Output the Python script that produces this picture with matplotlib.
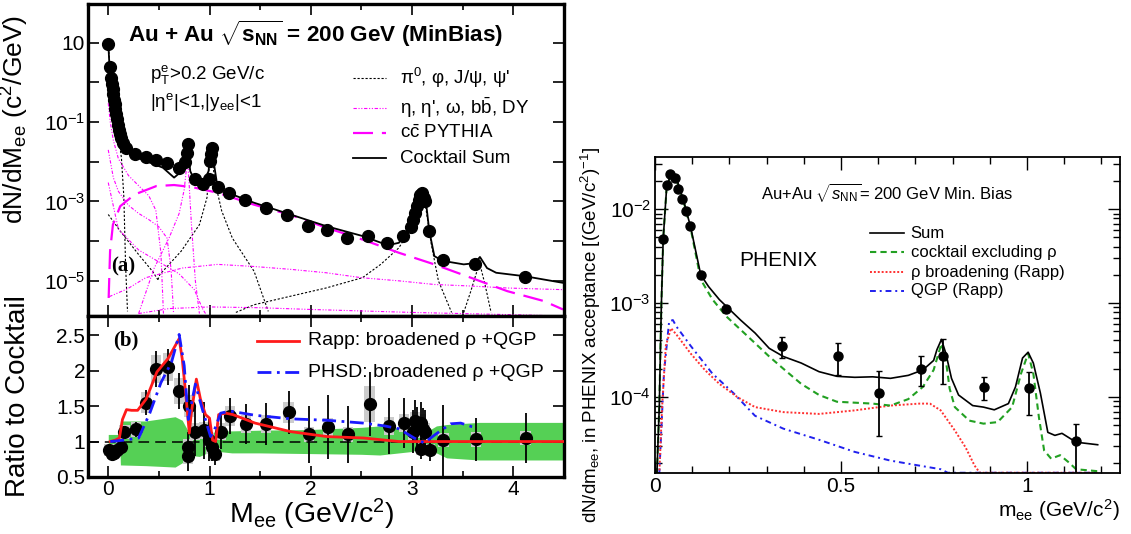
import numpy as np
import matplotlib
matplotlib.use("Agg")
import matplotlib.pyplot as plt
from matplotlib.ticker import FixedLocator, FixedFormatter, NullFormatter, MultipleLocator, LogLocator

plt.rcParams['font.family'] = ['Liberation Sans', 'DejaVu Sans']
plt.rcParams['mathtext.fontset'] = 'custom'
plt.rcParams['mathtext.rm'] = 'Liberation Sans'
plt.rcParams['mathtext.it'] = 'Liberation Sans:italic'
plt.rcParams['mathtext.bf'] = 'Liberation Sans:bold'

# ================= Panel (a): dN/dMee =================
data_M = [0.0, 0.018, 0.029, 0.036, 0.043, 0.05, 0.057, 0.064, 0.071, 0.079, 0.086, 0.093,
          0.104, 0.114, 0.129, 0.146, 0.171, 0.268, 0.368, 0.468, 0.582, 0.696, 0.761, 0.779,
          0.786, 0.857, 0.939, 0.993, 1.004, 1.011, 1.021, 1.082, 1.196, 1.35, 1.554, 1.761,
          1.975, 2.164, 2.361, 2.564, 2.754, 2.914, 2.993, 3.011, 3.029, 3.046, 3.064, 3.082,
          3.1, 3.118, 3.125, 3.171, 3.304, 3.618, 4.118]
data_y = [9.1, 2.48, 1.31, 0.92, 0.67, 0.50, 0.37, 0.28, 0.21, 0.156, 0.117, 0.087,
          0.065, 0.049, 0.039, 0.029, 0.0225, 0.0153, 0.0131, 0.0108, 0.0094, 0.0071, 0.0098, 0.0169,
          0.0274, 0.0036, 0.0027, 0.0036, 0.0104, 0.0153, 0.0225, 0.0023, 0.00165, 0.00106, 6.9e-4, 4.7e-4,
          2.4e-4, 1.86e-4, 1.21e-4, 1.34e-4, 9.1e-5, 1.34e-4, 2.25e-4, 3.5e-4, 5.2e-4, 7.6e-4, 1.12e-3, 1.5e-3,
          1.65e-3, 1.24e-3, 1.02e-3, 1.79e-4, 3.45e-5, 2.7e-5, 1.24e-5]

sum_M = [0.0, 0.01, 0.03, 0.05, 0.08, 0.1, 0.118, 0.17, 0.26, 0.37, 0.54, 0.65, 0.725, 0.76, 0.786,
         0.81, 0.85, 0.94, 0.99, 1.02, 1.045, 1.08, 1.225, 1.44, 1.8, 2.15, 2.51, 2.76, 2.87, 2.97,
         3.05, 3.09, 3.14, 3.17, 3.22, 3.3, 3.51, 3.62, 3.67, 3.74, 3.83, 4.12, 4.49]
sum_y = [10, 3.2, 1.0, 0.40, 0.126, 0.063, 0.033, 0.02, 0.0135, 0.0105, 0.0071, 0.0040, 0.0058, 0.0085, 0.020,
         0.0058, 0.0035, 0.0030, 0.0058, 0.0275, 0.0085, 0.0022, 0.0015, 9.3e-4, 4.7e-4, 2.4e-4, 1.35e-4, 7.9e-5, 9.1e-5, 2.2e-4,
         8.3e-4, 1.9e-3, 8.3e-4, 1.8e-4, 4.2e-5, 3.2e-5, 2.6e-5, 2.8e-5, 4.0e-5, 2.1e-5, 1.6e-5, 1.3e-5, 8.9e-6]

ccbar_M = [0.004, 0.018, 0.046, 0.118, 0.26, 0.475, 0.65, 0.83, 1.08, 1.44, 1.80, 2.15, 2.51, 2.87,
           3.22, 3.58, 3.94, 4.30, 4.49]
ccbar_y = [3.7e-6, 5.6e-5, 2.6e-4, 7.6e-4, 1.5e-3, 2.45e-3, 2.6e-3, 2.3e-3, 1.66e-3, 8.3e-4, 4.6e-4, 2.2e-4,
           1.1e-4, 5.1e-5, 2.6e-5, 1.2e-5, 5.5e-6, 3.1e-6, 1.9e-6]

# black dashed components: pi0, phi (Dalitz + direct), J/psi, psi'
pi0_M = [0.0, 0.02, 0.05, 0.08, 0.1, 0.13, 0.154, 0.171, 0.19]
pi0_y = [9.5, 2.0, 0.35, 0.1, 0.045, 0.0126, 1.3e-3, 2.5e-5, 1.7e-6]
phiD_M = [0.0, 0.118, 0.3, 0.44, 0.49]
phiD_y = [4.7e-4, 1.8e-4, 4.6e-5, 1.7e-5, 1.07e-5]
phi_M = [0.49, 0.51, 0.72, 0.9, 0.975, 1.0, 1.02, 1.04, 1.06, 1.12, 1.225, 1.44, 1.58]
phi_y = [1.07e-5, 1.45e-5, 5.6e-5, 2.6e-4, 1.26e-3, 0.0105, 0.027, 0.006, 2.7e-3, 5.8e-4, 1.2e-4, 1.74e-5, 1.7e-6]
jpsi_M = [1.26, 1.44, 1.8, 2.15, 2.51, 2.69, 2.87, 2.97, 3.05, 3.09, 3.12, 3.19, 3.26, 3.39]
jpsi_y = [1.6e-6, 2.5e-6, 4.1e-6, 6.6e-6, 1.2e-5, 2.6e-5, 6.8e-5, 1.8e-4, 8.3e-4, 1.8e-3, 1.26e-3, 8.3e-5, 1.0e-5, 1.6e-6]
psip_M = [3.51, 3.58, 3.65, 3.67, 3.72, 3.78]
psip_y = [1.6e-6, 5.5e-6, 2.1e-5, 2.6e-5, 8.1e-6, 1.6e-6]

# magenta dash-dot-dot components: eta, eta', omega, bbbar, DY
eta_M = [0.0, 0.02, 0.05, 0.1, 0.2, 0.3, 0.4, 0.47, 0.52, 0.545]
eta_y = [0.3, 0.1, 0.035, 0.012, 0.0045, 0.0025, 0.0014, 6e-4, 5e-5, 1.5e-6]
omD_M = [0.0, 0.05, 0.1, 0.2, 0.3, 0.4, 0.5, 0.58, 0.62, 0.645]
omD_y = [0.02, 0.004, 0.0018, 8e-4, 5e-4, 3.5e-4, 2.3e-4, 1.2e-4, 2e-5, 1.5e-6]
om_M = [0.3, 0.45, 0.6, 0.7, 0.75, 0.77, 0.783, 0.795, 0.82, 0.86, 0.9]
om_y = [1.5e-6, 2e-5, 1.2e-4, 5e-4, 2e-3, 6e-3, 0.012, 4e-3, 3e-4, 1e-5, 1.5e-6]
etap_M = [0.0, 0.1, 0.3, 0.5, 0.7, 0.85, 0.93, 0.96]
etap_y = [0.003, 2e-4, 6e-5, 3e-5, 1.5e-5, 6e-6, 2e-6, 1.5e-6]
bb_M = [0.01, 0.19, 0.37, 0.73, 1.08, 1.44, 1.8, 2.15, 2.5, 2.87, 3.22, 3.58, 3.94, 4.49]
bb_y = [4e-6, 6.3e-6, 1.2e-5, 2.1e-5, 2.6e-5, 2.3e-5, 1.95e-5, 1.6e-5, 1.2e-5, 1.0e-5, 8.1e-6, 7.4e-6, 6.6e-6, 6.0e-6]
dy_M = [0.3, 0.6, 1.0, 1.5, 2.0, 3.0, 4.0, 4.49]
dy_y = [1.5e-6, 2e-6, 2.2e-6, 2.1e-6, 1.9e-6, 1.6e-6, 1.4e-6, 1.3e-6]

# ================= Panel (b): ratio to cocktail =================
r_M = [0.01, 0.036, 0.06, 0.09, 0.125, 0.16, 0.27, 0.375, 0.475, 0.59, 0.70, 0.80, 0.79, 0.786,
       0.86, 0.95, 0.99, 1.02, 1.05, 1.11, 1.2, 1.36, 1.56, 1.78, 1.98, 2.17, 2.37, 2.58, 2.77,
       2.92, 3.01, 3.03, 3.05, 3.09, 3.11, 3.13, 3.09, 3.18, 3.31, 3.63, 4.12]
r_y = [0.88, 0.83, 0.84, 0.88, 0.93, 1.14, 1.17, 1.55, 2.02, 2.05, 1.71, 1.5, 0.93, 0.79,
       1.14, 1.16, 1.02, 0.93, 0.82, 1.14, 1.36, 1.25, 1.25, 1.41, 1.1, 1.2, 1.1, 1.53, 1.22,
       1.26, 1.14, 1.29, 1.19, 1.26, 1.17, 1.14, 0.9, 0.88, 1.02, 1.03, 1.05]
r_stat = [0.05, 0.05, 0.05, 0.05, 0.06, 0.08, 0.1, 0.17, 0.25, 0.25, 0.25, 0.3, 0.2, 0.2,
          0.35, 0.4, 0.3, 0.2, 0.15, 0.25, 0.25, 0.28, 0.3, 0.3, 0.4, 0.45, 0.4, 0.45, 0.4,
          0.35, 0.3, 0.3, 0.3, 0.3, 0.3, 0.3, 0.15, 0.15, 0.5, 0.3, 0.35]
r_sys = [0.08, 0.08, 0.08, 0.08, 0.08, 0.1, 0.1, 0.15, 0.2, 0.2, 0.18, 0.15, 0.1, 0.1,
         0.12, 0.12, 0.1, 0.1, 0.09, 0.12, 0.14, 0.13, 0.13, 0.15, 0.11, 0.13, 0.11, 0.25, 0.13,
         0.13, 0.12, 0.13, 0.12, 0.13, 0.12, 0.12, 0.09, 0.09, 0.1, 0.1, 0.1]

band_M = [0.0, 0.115, 0.12, 0.37, 0.66, 0.73, 0.78, 0.9, 1.01, 1.09, 1.22, 1.49, 2.0, 2.5,
          2.68, 3.0, 3.1, 3.24, 3.34, 3.66, 4.5]
band_lo = [0.9, 0.9, 0.67, 0.66, 0.64, 0.7, 0.81, 0.79, 0.86, 0.86, 0.84, 0.84, 0.83, 0.82,
           0.81, 0.86, 0.91, 0.84, 0.77, 0.74, 0.74]
band_hi = [1.1, 1.1, 1.29, 1.29, 1.35, 1.3, 1.17, 1.19, 1.12, 1.15, 1.15, 1.16, 1.17, 1.2,
           1.22, 1.17, 1.1, 1.22, 1.24, 1.27, 1.27]

rapp_M = [0.02, 0.07, 0.11, 0.14, 0.18, 0.23, 0.29, 0.375, 0.48, 0.59, 0.70, 0.73, 0.77, 0.80,
          0.82, 0.87, 0.91, 0.96, 1.0, 1.03, 1.06, 1.09, 1.16, 1.23, 1.45, 1.8, 2.16, 2.52, 2.87,
          3.05, 4.5]
rapp_y = [1.0, 1.02, 1.05, 1.31, 1.45, 1.44, 1.44, 1.6, 1.98, 2.17, 2.45, 2.17, 1.6, 1.12,
          1.40, 1.88, 1.6, 1.38, 1.33, 1.02, 1.0, 1.38, 1.40, 1.38, 1.26, 1.14, 1.07, 1.05, 1.0,
          1.0, 1.0]
phsd_M = [0.02, 0.16, 0.3, 0.41, 0.52, 0.625, 0.70, 0.75, 0.79, 0.86, 0.93, 1.01, 1.05, 1.11,
          1.2, 1.45, 1.8, 2.16, 2.52, 2.73, 2.87, 3.02, 3.12, 3.23, 3.38, 3.48, 3.59, 3.63]
phsd_y = [1.0, 1.02, 1.05, 1.4, 1.83, 2.12, 2.51, 2.07, 1.31, 1.81, 1.45, 1.07, 1.17, 1.4,
          1.43, 1.37, 1.32, 1.3, 1.26, 1.22, 1.18, 1.05, 0.98, 1.1, 1.25, 1.26, 1.21, 1.2]
ratio_ticks = [0.5, 1.0, 1.5, 2.0, 2.5]
ratio_tick_labels = ['0.5', '1', '1.5', '2', '2.5']

# ================= Right panel: PHENIX =================
p_m = [0.022, 0.032, 0.041, 0.053, 0.062, 0.073, 0.083, 0.093, 0.123, 0.192, 0.342, 0.491,
       0.601, 0.716, 0.775, 0.884, 1.005, 1.133]
p_y = [4.85e-3, 0.0181, 0.024, 0.0213, 0.0166, 0.013, 0.0096, 0.0066, 0.0020, 8.6e-4, 3.5e-4, 2.75e-4,
       1.11e-4, 2.0e-4, 2.73e-4, 1.28e-4, 1.26e-4, 3.4e-5]
p_lo = [4.85e-3, 0.0181, 0.024, 0.0213, 0.0166, 0.013, 0.0096, 0.0066, 0.0020, 8.0e-4, 2.58e-4, 1.7e-4,
        3.8e-5, 1.3e-4, 1.39e-4, 9.3e-5, 6.5e-5, 1.0e-5]
p_hi = [4.85e-3, 0.0181, 0.024, 0.0213, 0.0166, 0.013, 0.0096, 0.0066, 0.0020, 9.3e-4, 4.4e-4, 3.8e-4,
        1.88e-4, 2.75e-4, 4.1e-4, 1.62e-4, 1.86e-4, 5.2e-5]

s_m = [0.005, 0.0115, 0.017, 0.022, 0.031, 0.043, 0.056, 0.077, 0.096, 0.123, 0.144, 0.173, 0.23,
       0.269, 0.307, 0.345, 0.393, 0.441, 0.489, 0.537, 0.585, 0.633, 0.681, 0.72, 0.749, 0.758,
       0.77, 0.782, 0.797, 0.816, 0.854, 0.883, 0.912, 0.95, 0.969, 0.988, 1.003, 1.017, 1.036,
       1.056, 1.075, 1.094, 1.132, 1.19]
s_y = [1.5e-5, 7.8e-5, 9.2e-4, 4.8e-3, 0.0164, 0.0247, 0.0224, 0.0123, 0.0064, 0.0020, 0.0015, 0.00109, 6.6e-4,
       4.8e-4, 3.3e-4, 2.7e-4, 2.3e-4, 1.86e-4, 1.66e-4, 1.62e-4, 1.64e-4, 1.58e-4, 1.7e-4, 1.94e-4, 2.45e-4, 3.2e-4,
       4.1e-4, 2.9e-4, 1.58e-4, 1.05e-4, 8.1e-5, 7.8e-5, 7.3e-5, 8.5e-5, 1.28e-4, 2.6e-4, 3.0e-4, 2.3e-4, 1.1e-4,
       4.2e-5, 3.9e-5, 4.1e-5, 3.3e-5, 3.1e-5]

g_m = [0.005, 0.0115, 0.017, 0.022, 0.031, 0.043, 0.056, 0.077, 0.096, 0.123, 0.154, 0.192, 0.25,
       0.307, 0.345, 0.393, 0.441, 0.489, 0.585, 0.633, 0.681, 0.72, 0.749, 0.77, 0.782, 0.792,
       0.806, 0.845, 0.883, 0.921, 0.96, 0.984, 1.003, 1.017, 1.032, 1.046, 1.065, 1.089, 1.113,
       1.132, 1.19]
g_y = [1.5e-5, 7.8e-5, 9.2e-4, 4.8e-3, 0.0164, 0.024, 0.0215, 0.012, 0.0062, 1.78e-3, 1.1e-3, 7.2e-4, 4.4e-4,
       2.7e-4, 2.0e-4, 1.38e-4, 1.05e-4, 8.9e-5, 8.5e-5, 8.1e-5, 9.5e-5, 1.28e-4, 1.94e-4, 3.7e-4, 2.45e-4, 1.23e-4,
       7.8e-5, 5.6e-5, 5.2e-5, 5.4e-5, 7.8e-5, 1.78e-4, 2.9e-4, 1.78e-4, 6.1e-5, 2.7e-5, 2.2e-5, 2.4e-5, 2.0e-5,
       1.7e-5, 1.62e-5]

rho_m = [0.0115, 0.019, 0.029, 0.043, 0.058, 0.096, 0.134, 0.173, 0.221, 0.269, 0.345, 0.441, 0.537,
         0.633, 0.71, 0.739, 0.768, 0.806, 0.835, 0.859, 0.873, 1.19]
rho_y = [1.5e-5, 7.8e-5, 3.5e-4, 5.4e-4, 4.6e-4, 2.9e-4, 1.94e-4, 1.38e-4, 1.0e-4, 7.8e-5, 6.9e-5, 6.6e-5, 7.2e-5,
         8.1e-5, 8.5e-5, 8.5e-5, 7.2e-5, 4.4e-5, 2.9e-5, 1.86e-5, 1.56e-5, 1.56e-5]

qgp_m = [0.0115, 0.024, 0.038, 0.048, 0.058, 0.096, 0.154, 0.211, 0.269, 0.345, 0.441, 0.537, 0.633,
         0.71, 0.768, 0.787, 1.19]
qgp_y = [1.5e-5, 1.78e-4, 6.4e-4, 6.6e-4, 5.6e-4, 3.5e-4, 1.78e-4, 1.1e-4, 6.3e-5, 4.6e-5, 3.5e-5, 2.6e-5, 2.1e-5,
         1.86e-5, 1.7e-5, 1.56e-5, 1.56e-5]

# ================= Figure =================
W, H = 1131, 534
fig = plt.figure(figsize=(W / 100, H / 100), dpi=100)
axA = fig.add_axes([88 / W, 1 - 316 / H, 476 / W, 312 / H])
axB = fig.add_axes([88 / W, 1 - 477 / H, 476 / W, 161 / H])
axR = fig.add_axes([655 / W, 1 - 473 / H, 465 / W, 316 / H])

mag = '#ff00ff'
ls_blk = (0, (2.0, 1.6))
ls_mag = (0, (3, 1.5, 1, 1.5, 1, 1.5))

# ---- panel (a) ----
axA.set_yscale('log')
for M, y in [(pi0_M, pi0_y), (phiD_M, phiD_y), (phi_M, phi_y), (jpsi_M, jpsi_y), (psip_M, psip_y)]:
    axA.plot(M, y, color='black', lw=0.8, ls=ls_blk)
for M, y in [(eta_M, eta_y), (omD_M, omD_y), (om_M, om_y), (etap_M, etap_y), (bb_M, bb_y), (dy_M, dy_y)]:
    axA.plot(M, y, color=mag, lw=0.8, ls=ls_mag)
axA.plot(ccbar_M, ccbar_y, color=mag, lw=1.6, ls=(0, (9, 4)))
axA.plot(sum_M, sum_y, color='black', lw=1.3)
axA.errorbar(data_M, data_y, yerr=np.array(data_y) * 0.12, fmt='o', color='black', ms=8.5,
             elinewidth=1.2, capsize=0, zorder=5)
axA.set_xlim(-0.2, 4.5)
axA.set_ylim(1.3e-6, 95)
axA.yaxis.set_major_locator(FixedLocator([1e-5, 1e-4, 1e-3, 1e-2, 1e-1, 1, 10]))
axA.yaxis.set_major_formatter(FixedFormatter([r'10$^{-5}$', '', r'10$^{-3}$', '', r'10$^{-1}$', '', '10']))
axA.yaxis.set_minor_locator(FixedLocator([]))
axA.xaxis.set_major_locator(MultipleLocator(1))
axA.xaxis.set_minor_locator(MultipleLocator(0.5))
axA.xaxis.set_major_formatter(NullFormatter())
axA.tick_params(which='both', direction='in', top=True, right=True, labelsize=15, pad=2, width=1.2)
axA.tick_params(which='major', length=8)
axA.tick_params(which='minor', length=4)
for s in axA.spines.values():
    s.set_linewidth(2.4)
axA.set_ylabel(r'dN/dM$_{\rm ee}$ (c$^2$/GeV)', fontsize=19)
axA.yaxis.set_label_coords(-0.12, 0.63)

axA.text(0.085, 0.905, r'Au + Au $\mathbf{\sqrt{s_{NN}}}$ = 200 GeV (MinBias)', transform=axA.transAxes,
         fontsize=16.2, fontweight='bold', va='center')
axA.text(0.13, 0.775, r'p$_{\rm T}^{\rm e}$>0.2 GeV/c', transform=axA.transAxes, fontsize=13.5, va='center')
axA.text(0.13, 0.685, r'|η$^{\rm e}$|<1,|y$_{\rm ee}$|<1', transform=axA.transAxes, fontsize=13.5, va='center')
axA.text(0.048, 0.16, '(a)', transform=axA.transAxes, fontsize=15, fontweight='bold',
         family='Liberation Serif', va='center')

leg_items = [
    (dict(color='black', lw=0.8, ls=ls_blk), "π$^0$, φ, J/ψ, ψ'"),
    (dict(color=mag, lw=0.8, ls=ls_mag), r"η, η', ω, b$\bar{\rm b}$, DY"),
    (dict(color=mag, lw=1.6, ls=(0, (9, 4))), r"c$\bar{\rm c}$ PYTHIA"),
    (dict(color='black', lw=1.3), 'Cocktail Sum'),
]
rows = [0.763, 0.667, 0.587, 0.506]
for (kw, lab), yy in zip(leg_items, rows):
    axA.plot([0.556, 0.626], [yy, yy], transform=axA.transAxes, **kw)
    axA.text(0.655, yy, lab, transform=axA.transAxes, fontsize=13.5, va='center')

# ---- panel (b) ----
axB.fill_between(band_M, band_lo, band_hi, color='#55d055', lw=0, zorder=1)
r_y_a = np.array(r_y)
r_sys_a = np.array(r_sys)
axB.bar(r_M, 2 * r_sys_a, bottom=r_y_a - r_sys_a, width=0.1, color='#cccccc', zorder=2)
axB.axhline(1.0, color='black', lw=1.1, ls=(0, (7, 4)), zorder=3)
axB.errorbar(r_M, r_y, yerr=r_stat, fmt='o', color='black', ms=8.5, elinewidth=1.3, capsize=0, zorder=4)
axB.plot(phsd_M, phsd_y, color='#1a1aff', lw=2.0, ls=(0, (5, 2, 1, 2)), zorder=6)
axB.plot(rapp_M, rapp_y, color='#ff1a1a', lw=2.0, zorder=5)
axB.set_xlim(-0.2, 4.5)
axB.set_ylim(0.5, 2.77)
axB.xaxis.set_major_locator(MultipleLocator(1))
axB.xaxis.set_minor_locator(MultipleLocator(0.5))
axB.yaxis.set_major_locator(FixedLocator(ratio_ticks))
axB.yaxis.set_major_formatter(FixedFormatter(ratio_tick_labels))
axB.tick_params(which='both', direction='in', top=True, right=True, labelsize=15, pad=2, width=1.2)
axB.tick_params(which='major', length=8)
axB.tick_params(which='minor', length=4)
for s in axB.spines.values():
    s.set_linewidth(2.4)
axB.set_ylabel('Ratio to Cocktail', fontsize=20)
axB.yaxis.set_label_coords(-0.12, 0.503)
axB.set_xlabel(r'M$_{\rm ee}$ (GeV/c$^2$)', fontsize=20.5)
axB.xaxis.set_label_coords(0.47, -0.235)
axB.xaxis.label.set_va('center')
axB.text(0.052, 0.85, '(b)', transform=axB.transAxes, fontsize=15, fontweight='bold',
         family='Liberation Serif', va='center')
axB.plot([0.355, 0.443], [0.845, 0.845], transform=axB.transAxes, color='#ff1a1a', lw=2.0)
axB.text(0.463, 0.845, 'Rapp: broadened ρ +QGP', transform=axB.transAxes, fontsize=14, va='center')
axB.plot([0.355, 0.443], [0.652, 0.652], transform=axB.transAxes, color='#1a1aff', lw=2.0, ls=(0, (5, 2, 1, 2)))
axB.text(0.463, 0.652, 'PHSD: broadened ρ +QGP', transform=axB.transAxes, fontsize=14, va='center')

# ---- right panel ----
axR.set_yscale('log')
axR.plot(qgp_m, qgp_y, color='#2020ee', lw=1.4, ls=(0, (3, 2, 1, 2)))
axR.plot(rho_m, rho_y, color='#ff3030', lw=1.4, ls=(0, (1, 1)))
axR.plot(g_m, g_y, color='#22a022', lw=1.5, ls=(0, (3, 2)))
axR.plot(s_m, s_y, color='black', lw=1.2)
p_y_a = np.array(p_y)
axR.errorbar(p_m, p_y, yerr=[p_y_a - np.array(p_lo), np.array(p_hi) - p_y_a], fmt='o', color='black',
             ms=6.5, elinewidth=1.3, capsize=2.5, capthick=1.0, zorder=5)
axR.set_xlim(0, 1.25)
axR.set_ylim(1.55e-5, 0.036)
axR.xaxis.set_major_locator(FixedLocator([0, 0.5, 1.0]))
axR.xaxis.set_major_formatter(FixedFormatter(['0', '0.5', '1']))
axR.xaxis.set_minor_locator(MultipleLocator(0.1))
axR.yaxis.set_major_locator(FixedLocator([1e-4, 1e-3, 1e-2]))
axR.yaxis.set_major_formatter(FixedFormatter([r'10$^{-4}$', r'10$^{-3}$', r'10$^{-2}$']))
axR.yaxis.set_minor_locator(LogLocator(base=10, subs=np.arange(2, 10)))
axR.yaxis.set_minor_formatter(NullFormatter())
axR.tick_params(which='both', direction='in', top=True, right=True, labelsize=15, pad=3, width=1.0)
axR.tick_params(which='major', length=9)
axR.tick_params(which='minor', length=5)
for s in axR.spines.values():
    s.set_linewidth(1.3)
axR.set_ylabel(r'dN/dm$_{\rm ee}$, in PHENIX acceptance [(GeV/c$^2$)$^{-1}$]', fontsize=13.5)
axR.yaxis.set_label_coords(-0.112, 0.437)
axR.set_xlabel(r'm$_{\rm ee}$ (GeV/c$^2$)', fontsize=15)
axR.xaxis.set_label_coords(1.0, -0.117)
axR.xaxis.label.set_ha('right')
axR.xaxis.label.set_va('center')
axR.text(0.228, 0.889, r'Au+Au $\sqrt{s_{\rm NN}}$= 200 GeV Min. Bias', transform=axR.transAxes,
         fontsize=12, va='center')
axR.text(0.181, 0.671, 'PHENIX', transform=axR.transAxes, fontsize=15, va='center')
r_items = [
    (dict(color='black', lw=1.2), 'Sum'),
    (dict(color='#22a022', lw=1.5, ls=(0, (3, 2))), 'cocktail excluding ρ'),
    (dict(color='#ff3030', lw=1.4, ls=(0, (1, 1))), 'ρ broadening (Rapp)'),
    (dict(color='#2020ee', lw=1.4, ls=(0, (3, 2, 1, 2))), 'QGP (Rapp)'),
]
for (kw, lab), yy in zip(r_items, [0.759, 0.699, 0.636, 0.576]):
    axR.plot([0.462, 0.535], [yy, yy], transform=axR.transAxes, **kw)
    axR.text(0.55, yy, lab, transform=axR.transAxes, fontsize=12, va='center')

fig.savefig('out.png', dpi=100)
